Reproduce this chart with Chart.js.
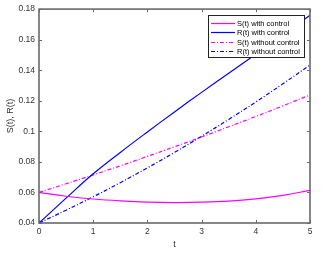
<!DOCTYPE html>
<html lang="en">
<head>
  <meta charset="UTF-8">
  <title>S(t), R(t)</title>
  <script src="https://cdn.jsdelivr.net/npm/chart.js"></script>
  <style>
    body {
      margin: 0;
      background-color: #fff;
    }

    .wrap {
      width: 323px;
      height: 253px;
    }
  </style>
</head>
<body>
  <div class="wrap">
    <canvas id="chart" width="323" height="253"></canvas>
  </div>

  <script>
    // values
    const tValues = [0, 0.5, 1, 1.5, 2, 2.5, 3, 3.5, 4, 4.5, 5];
    const sWithControl = [0.06, 0.0575, 0.0557, 0.0545, 0.0537, 0.0534, 0.0536, 0.0543, 0.0558, 0.0581, 0.0614];
    const rWithControl = [0.04, 0.0563, 0.0722, 0.0862, 0.0996, 0.1127, 0.1255, 0.138, 0.1505, 0.163, 0.176];
    const sWithoutControl = [0.06, 0.0657, 0.0715, 0.0774, 0.0836, 0.0899, 0.0963, 0.103, 0.1097, 0.1167, 0.1238];
    const rWithoutControl = [0.04, 0.0484, 0.0572, 0.0664, 0.0761, 0.0862, 0.0968, 0.1078, 0.1192, 0.1311, 0.1434];
    const seriesLabels = ['S(t) with control', 'R(t) with control', 'S(t) without control', 'R(t) without control'];
    const xTicks = [0, 1, 2, 3, 4, 5];
    const yTicks = [0.04, 0.06, 0.08, 0.1, 0.12, 0.14, 0.16, 0.18];

    const MAGENTA = '#ff00ff';
    const BLUE = '#0000ff';
    const DASHDOT = [4, 2, 1, 2];
    const FONT = '"Liberation Sans", Arial, sans-serif';

    function toPoints(values) {
      return tValues.map((t, i) => ({ x: t, y: values[i] }));
    }

    function makeSet(label, values, color, dash) {
      return {
        label: label,
        data: toPoints(values),
        borderColor: color,
        borderWidth: 1.2,
        borderDash: dash,
        pointRadius: 0,
        tension: 0.4,
        fill: false,
      };
    }

    // box round the axes with inward ticks on all four sides
    const boxPlugin = {
      id: 'box',
      afterDatasetsDraw(chart) {
        const { ctx, chartArea: a, scales } = chart;
        ctx.save();
        ctx.strokeStyle = '#6a6a6a';
        ctx.lineWidth = 1;
        ctx.beginPath();
        xTicks.forEach(v => {
          const px = Math.round(scales.x.getPixelForValue(v)) + 0.5;
          ctx.moveTo(px, a.bottom);
          ctx.lineTo(px, a.bottom - 3);
          ctx.moveTo(px, a.top);
          ctx.lineTo(px, a.top + 3);
        });
        yTicks.forEach(v => {
          const py = Math.round(scales.y.getPixelForValue(v)) + 0.5;
          ctx.moveTo(a.left, py);
          ctx.lineTo(a.left + 3, py);
          ctx.moveTo(a.right, py);
          ctx.lineTo(a.right - 3, py);
        });
        ctx.stroke();
        ctx.lineWidth = 1.6;
        ctx.strokeRect(a.left, a.top, a.right - a.left, a.bottom - a.top);
        ctx.restore();
      }
    };

    // MATLAB style legend box in the upper right corner
    const legendPlugin = {
      id: 'boxLegend',
      afterDraw(chart) {
        const { ctx } = chart;
        const left = 208, top = 15, w = 96, h = 42;
        ctx.save();
        ctx.fillStyle = '#fff';
        ctx.fillRect(left, top, w, h);
        ctx.strokeStyle = '#222';
        ctx.lineWidth = 1;
        ctx.strokeRect(left + 0.5, top + 0.5, w, h);
        ctx.font = '7.5px ' + FONT;
        ctx.textBaseline = 'middle';
        chart.data.datasets.forEach((ds, i) => {
          const y = Math.round(top + 7.5 + i * 9.6) + 0.5;
          ctx.strokeStyle = ds.borderColor;
          ctx.lineWidth = 1.2;
          ctx.setLineDash(ds.borderDash || []);
          ctx.beginPath();
          ctx.moveTo(211, y);
          ctx.lineTo(235, y);
          ctx.stroke();
          ctx.setLineDash([]);
          ctx.fillStyle = '#000';
          ctx.fillText(ds.label, 237, y);
        });
        ctx.restore();
      }
    };

    const tickFont = { family: FONT, size: 8.5 };

    new Chart(document.getElementById('chart').getContext('2d'), {
      type: 'line',
      data: {
        datasets: [
          makeSet(seriesLabels[0], sWithControl, MAGENTA, []),
          makeSet(seriesLabels[1], rWithControl, BLUE, []),
          makeSet(seriesLabels[2], sWithoutControl, MAGENTA, DASHDOT),
          makeSet(seriesLabels[3], rWithoutControl, BLUE, DASHDOT),
        ],
      },
      options: {
        responsive: false,
        animation: false,
        layout: { padding: { top: 9, right: 13, left: 0, bottom: 0 } },
        plugins: {
          legend: { display: false },
          tooltip: { enabled: false },
        },
        scales: {
          x: {
            type: 'linear',
            min: 0,
            max: 5,
            afterFit(scale) { scale.height = 30; },
            afterBuildTicks(scale) { scale.ticks = xTicks.map(v => ({ value: v })); },
            grid: { display: false, drawTicks: false, tickLength: 0 },
            border: { display: false },
            ticks: { font: tickFont, color: '#333', padding: 4, maxRotation: 0 },
            title: {
              display: true,
              text: 't',
              font: { family: FONT, size: 9 },
              color: '#333',
              padding: { top: 0, bottom: 3 },
            },
          },
          y: {
            type: 'linear',
            min: 0.04,
            max: 0.18,
            afterFit(scale) { scale.width = 39; },
            afterBuildTicks(scale) { scale.ticks = yTicks.map(v => ({ value: v })); },
            grid: { display: false, drawTicks: false, tickLength: 0 },
            border: { display: false },
            ticks: {
              font: tickFont,
              color: '#333',
              padding: 4,
              callback: v => String(parseFloat(v.toFixed(2))),
            },
            title: {
              display: true,
              text: 'S(t), R(t)',
              font: { family: FONT, size: 9 },
              color: '#333',
              padding: { top: 5, bottom: 0 },
            },
          },
        },
      },
      plugins: [boxPlugin, legendPlugin],
    });
  </script>
</body>
</html>
